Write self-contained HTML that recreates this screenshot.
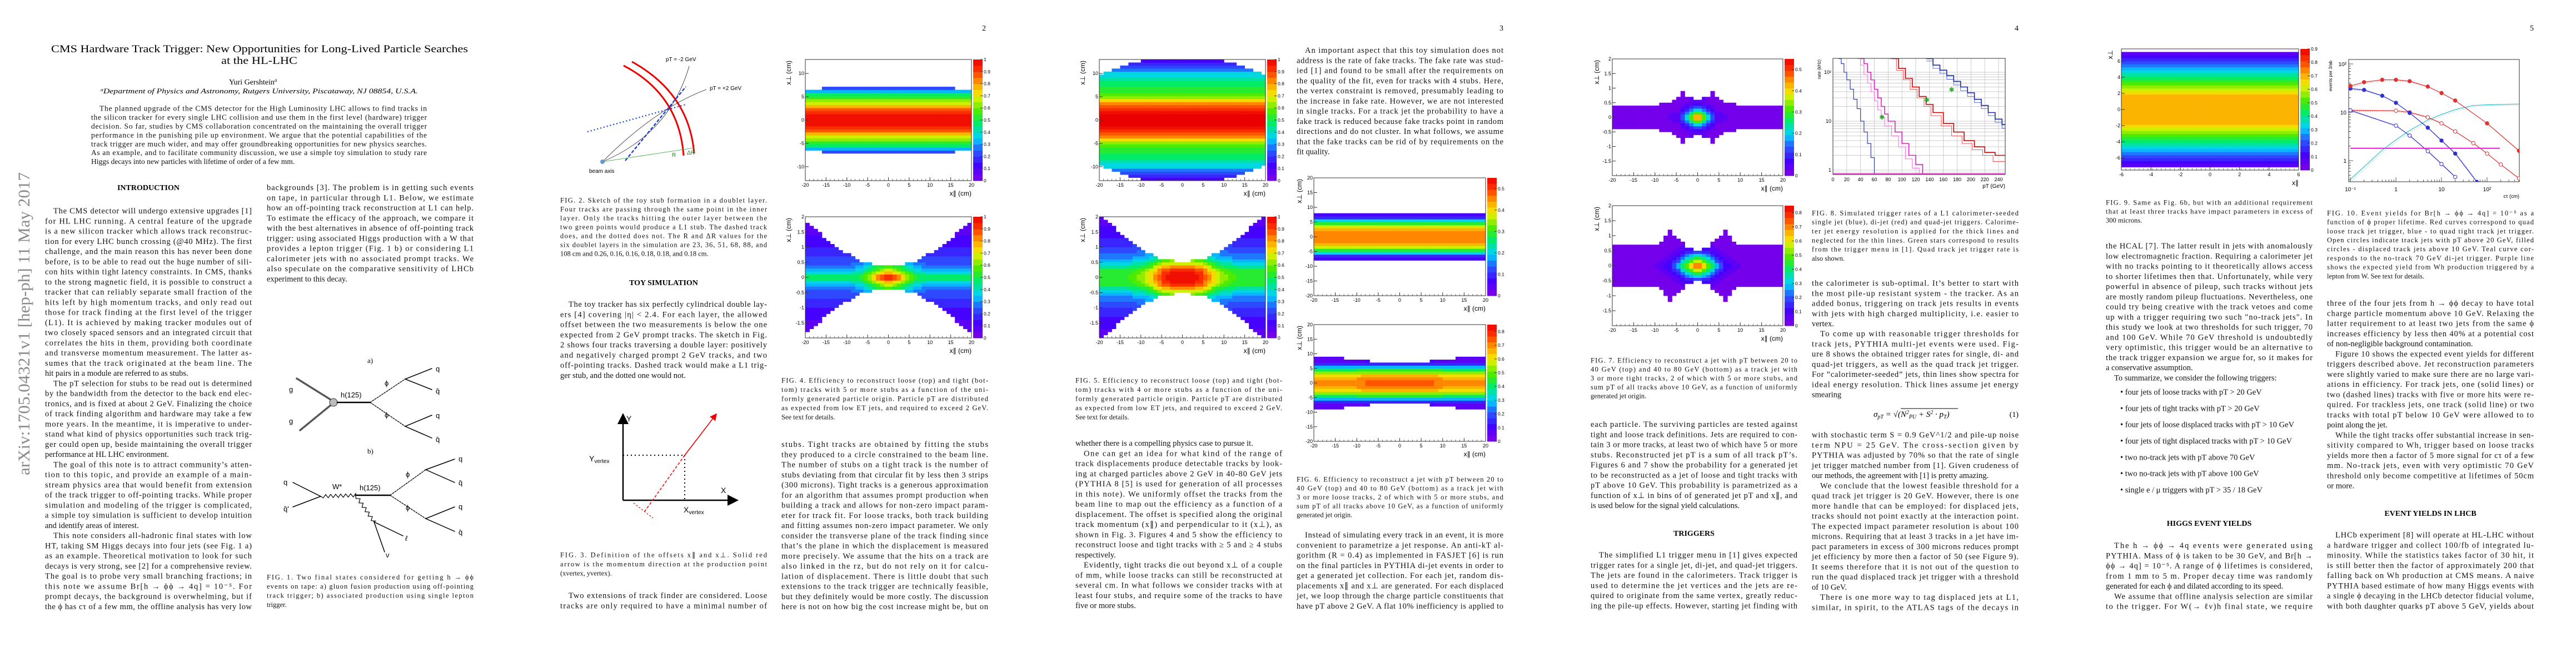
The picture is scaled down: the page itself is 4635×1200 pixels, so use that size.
<!DOCTYPE html>
<html><head><meta charset="utf-8">
<style>
html,body{margin:0;padding:0;background:#fff;}
#page{position:relative;width:4635px;height:1200px;overflow:hidden;background:#fff;}
svg{position:absolute;left:0;top:0;}
</style></head>
<body>
<div id="page">
<svg id="canvas" width="4635" height="1200" viewBox="0 0 4635 1200" font-family="Liberation Serif, serif">
 <defs>
  <marker id="arr" markerWidth="8" markerHeight="8" refX="6" refY="4" orient="auto"><path d="M0,0 L8,4 L0,8 z" fill="#000"/></marker>
  <marker id="arrR" markerWidth="8" markerHeight="8" refX="6" refY="4" orient="auto"><path d="M0,0 L8,4 L0,8 z" fill="#e00"/></marker>
 </defs>
 <text transform="translate(53,855) rotate(-90)" font-size="30" fill="#8a8a8a" textLength="545" lengthAdjust="spacingAndGlyphs">arXiv:1705.04321v1  [hep-ph]  11 May 2017</text>
 <text x="92" y="94" font-size="19" textLength="750" lengthAdjust="spacingAndGlyphs">CMS Hardware Track Trigger: New Opportunities for Long-Lived Particle Searches</text>
 <text x="398" y="115" font-size="19" textLength="137" lengthAdjust="spacingAndGlyphs">at the HL-LHC</text>
 <text x="412" y="152" font-size="14">Yuri Gershtein<tspan font-size="9" dy="-5" font-style="italic">a</tspan></text>
 <text x="181" y="168" font-size="13" font-style="italic" textLength="571" lengthAdjust="spacingAndGlyphs"><tspan font-size="8" dy="-4">a</tspan><tspan dy="4">Department of Physics and Astronomy, Rutgers University, Piscataway, NJ 08854, U.S.A.</tspan></text>
 <text x="1774" y="55" font-size="14" text-anchor="end">2</text>
 <text x="2705" y="55" font-size="14" text-anchor="end">3</text>
 <text x="3632" y="55" font-size="14" text-anchor="end">4</text>
 <text x="4559" y="55" font-size="14" text-anchor="end">5</text>
 <text x="267" y="342" font-size="14" font-weight="bold" text-anchor="middle">INTRODUCTION</text>
 <text x="1194" y="513" font-size="14" font-weight="bold" text-anchor="middle">TOY SIMULATION</text>
 <text x="3048" y="964" font-size="14" font-weight="bold" text-anchor="middle">TRIGGERS</text>
 <text x="3975" y="946" font-size="14" font-weight="bold" text-anchor="middle">HIGGS EVENT YIELDS</text>
 <text x="4373" y="928" font-size="14" font-weight="bold" text-anchor="middle">EVENT YIELDS IN LHCB</text>
 <text x="3371" y="750" font-size="15" font-style="italic">σ<tspan font-size="10" dy="3">pT</tspan><tspan dy="-3"> = √(N</tspan><tspan font-size="10" dy="-5">2</tspan><tspan font-size="10" dy="8">PU</tspan><tspan dy="-3"> + S</tspan><tspan font-size="10" dy="-5">2</tspan><tspan dy="5"> · p</tspan><tspan font-size="10" dy="3">T</tspan><tspan dy="-3">)</tspan></text>
 <line x1="3420" y1="735" x2="3523" y2="735" stroke="#000" stroke-width="1"/>
 <text x="3632" y="750" font-size="14" text-anchor="end">(1)</text>

 <g font-family="Liberation Sans, sans-serif" font-size="13" stroke-linecap="round">
  <text x="661" y="653" font-family="Liberation Serif, serif">a)</text>
  <line x1="534" y1="681" x2="595" y2="719" stroke="#555" stroke-width="3.5" stroke-dasharray="2 2"/>
  <line x1="540" y1="774" x2="595" y2="729" stroke="#555" stroke-width="3.5" stroke-dasharray="2 2"/>
  <circle cx="600" cy="724" r="7" fill="#bbb" stroke="#333"/>
  <text x="520" y="705">g</text><text x="520" y="762">g</text>
  <line x1="607" y1="724" x2="666" y2="724" stroke="#000" stroke-width="2.5"/>
  <text x="613" y="715">h(125)</text>
  <line x1="666" y1="724" x2="729" y2="682" stroke="#000" stroke-width="1.3" stroke-dasharray="3 2"/>
  <line x1="666" y1="724" x2="729" y2="767" stroke="#000" stroke-width="1.3" stroke-dasharray="3 2"/>
  <text x="692" y="694">ϕ</text><text x="692" y="751">ϕ</text>
  <path d="M777,663 L729,682 L777,701 M777,747 L729,767 L777,788" fill="none" stroke="#000" stroke-width="1.5"/>
  <text x="784" y="668">q</text><text x="784" y="708">q̄</text><text x="784" y="752">q</text><text x="784" y="795">q̄</text>
  <text x="661" y="816" font-family="Liberation Serif, serif">b)</text>
  <path d="M527,868 L577,893 L527,912" fill="none" stroke="#000" stroke-width="1.5"/>
  <text x="510" y="872">q</text><text x="510" y="920">q̄'</text>
  <path id="wstar" fill="none" stroke="#000" stroke-width="1.2"/>
  <path id="wdecay" fill="none" stroke="#000" stroke-width="1.2"/>
  <text x="598" y="880">W*</text>
  <line x1="640" y1="891" x2="702" y2="891" stroke="#000" stroke-width="2.5"/>
  <text x="647" y="882">h(125)</text>
  <line x1="702" y1="891" x2="766" y2="845" stroke="#000" stroke-width="1.3" stroke-dasharray="3 2"/>
  <line x1="702" y1="891" x2="766" y2="933" stroke="#000" stroke-width="1.3" stroke-dasharray="3 2"/>
  <text x="730" y="858">ϕ</text><text x="730" y="918">ϕ</text>
  <path d="M818,826 L766,845 L818,868 M818,912 L766,933 L818,956" fill="none" stroke="#000" stroke-width="1.5"/>
  <text x="825" y="830">q</text><text x="825" y="873">q̄</text><text x="825" y="916">q</text><text x="825" y="962">q̄</text>
  <path d="M725,964 L673,939 L692,993" fill="none" stroke="#000" stroke-width="1.5"/>
  <text x="729" y="973" font-style="italic">ℓ</text><text x="694" y="1003">ν</text>
 </g>

 <g font-family="Liberation Sans, sans-serif" font-size="10">
  <path d="M1122,118 Q1222,170 1230,280" fill="none" stroke="#e00" stroke-width="3"/>
  <path d="M1137,111 Q1240,168 1249,276" fill="none" stroke="#e00" stroke-width="3"/>
  <path d="M1084,291 Q1205,240 1240,119" fill="none" stroke="#222" stroke-width="0.8"/>
  <path d="M1084,291 Q1180,195 1271,161" fill="none" stroke="#222" stroke-width="0.8"/>
  <line x1="1057" y1="237" x2="1234" y2="188" stroke="#1a3fd0" stroke-width="2.3" stroke-dasharray="2 4"/>
  <line x1="1125" y1="289" x2="1234" y2="156" stroke="#1a3fd0" stroke-width="2.3" stroke-dasharray="6 3"/>
  <line x1="1084" y1="291" x2="1249" y2="266" stroke="#3a3" stroke-width="0.8"/>
  <circle cx="1084" cy="291" r="4" fill="#69c"/>
  <text x="1060" y="311">beam axis</text>
  <text x="1198" y="110">pT = -2 GeV</text>
  <text x="1277" y="162">pT = +2 GeV</text>
  <text x="1209" y="282" fill="#282">R</text><text x="1236" y="278" fill="#282">ΔR</text>
 </g>

 <g font-family="Liberation Sans, sans-serif" font-size="14">
  <line x1="1121" y1="900" x2="1121" y2="748" stroke="#000" stroke-width="2.5" marker-end="url(#arr)"/>
  <line x1="1121" y1="900" x2="1324" y2="900" stroke="#000" stroke-width="2.5" marker-end="url(#arr)"/>
  <line x1="1121" y1="819" x2="1232" y2="819" stroke="#000" stroke-width="2" stroke-dasharray="2 5"/>
  <line x1="1232" y1="819" x2="1232" y2="900" stroke="#000" stroke-width="2" stroke-dasharray="2 5"/>
  <line x1="1232" y1="819" x2="1288" y2="746" stroke="#e00" stroke-width="1.6" marker-end="url(#arrR)"/>
  <line x1="1232" y1="819" x2="1160" y2="920" stroke="#e00" stroke-width="1.5" stroke-dasharray="5 3"/>
  <line x1="1140" y1="905" x2="1175" y2="932" stroke="#e00" stroke-width="1.2" stroke-dasharray="3 3"/>
  <text x="1127" y="758">Y</text><text x="1297" y="887">X</text>
  <text x="1060" y="830">Y<tspan font-size="10" dy="3">vertex</tspan></text>
  <text x="1230" y="922">X<tspan font-size="10" dy="3">vertex</tspan></text>
 </g>
 <g id="charts"></g>
 <g id="texts" fill="#111"></g>
</svg>
</div>
<script>
const fig4aEdge=[7.3,7.3,7.3,7.2,7.2,7.1,7.0,6.9,6.7,6.4];
const fig4aRow=[1,0.97,0.78,0.6,0.42,0.15,0.06,0,0,0];
const fig4aCol=[1,1,1,1,1,1,1,1,1,1];
const fig4bEdge=[0.38,0.4,0.45,0.55,0.7,0.9,1.1,1.35,1.6,1.9];
const fig4bRow=[1,0.7,0.5,0.4,0.33,0.28,0.22,0.18,0.15,0.12];
const fig4bCol=[1,0.9,0.7,0.55,0.5,0.5,0.5,0.5,0.5,0.5];
const fig5aEdge=[13,13,13,13,12.8,12.5,12,11.3,10.5,9.5];
const fig5aRow=[1,1,0.9,0.7,0.55,0.5,0.45,0.35,0.2,0.08];
const fig5aCol=[1,1,1,1,1,1,1,1,1,1];
const fig5bEdge=[0.5,0.55,0.6,0.7,0.85,1.05,1.3,1.55,1.8,2];
const fig5bRow=[1,0.95,0.7,0.5,0.4,0.33,0.27,0.22,0.17,0.13];
const fig5bCol=[1,1,0.95,0.8,0.65,0.6,0.55,0.55,0.55,0.55];
const fig6aEdge=[7.5,7.5,7.5,7.5,7.5,7.5,7.5,7.8,8,8];
const fig6aRow=[0.47,0.44,0.3,0.08,0.02,0,0,0,0,0];
const fig6aCol=[1,1,1,1,1,1,1,1,1,1];
const fig6bEdge=[7,7,7,7.5,8,8,8.5,8.5,9,9];
const fig6bRow=[0.75,0.68,0.45,0.12,0.03,0,0,0,0,0];
const fig6bCol=[1,1,1,1,0.98,0.95,0.95,0.95,0.95,0.95];
const fig7aEdge=[0.6,0.7,1,1.3,1.6,1.9,2,2,2,2];
const fig7aRow=[0.55,0.25,0.08,0.04,0.02,0.02,0.02,0.02,0.02,0.02];
const fig7aCol=[1,0.5,0.1,0.06,0.05,0.05,0.05,0.05,0.05,0.05];
const fig7bEdge=[0.45,0.6,0.9,1.2,1.5,1.8,2,2,2,2];
const fig7bRow=[0.85,0.5,0.2,0.08,0.04,0.03,0.03,0.03,0.03,0.03];
const fig7bCol=[1,0.7,0.35,0.15,0.06,0.05,0.05,0.05,0.05,0.05];
const fig9Edge=[7.2,7.2,7.2,7.2,7.2,7.2,7.2,7.2,7.2,7.2];
const fig9Row=[0.72,0.72,0.7,0.62,0.52,0.42,0.3,0.18,0.08,0.03];
const fig9Col=[1,1,1,1,1,1,1,1,1,1];
const xTicks20=[-20,-15,-10,-5,0,5,10,15,20];
const yTicks13=[-10,-5,0,5,10];
const yTicks2=[-1.5,-1,-0.5,0,0.5,1,1.5,2];
const yTicks20=[-20,-15,-10,-5,0,5,10,15,20];
const xTicks6=[-6,-4,-2,0,2,4,6];
const yTicks6=[-6,-4,-2,0,2,4,6];
const f8QuadPt=[8,12,16,20,25,30,35,40,45,50,55,60];
const f8QuadRate=[190,150,100,70,45,28,18,10,6,3.5,1.8,0.7];
const f8PinkPt=[40,45,50,55,60,65,70,75,80,90,100,110,120,130];
const f8PinkRate=[190,150,100,70,45,30,20,14,10,6,3.5,2,1.3,0.6];
const f8PinkThinPt=[35,40,45,50,55,60,65,70,75,85,95,105,115,125];
const f8PinkThinRate=[190,140,90,60,40,26,17,12,8,5,3,1.7,1.1,0.6];
const f8RedPt=[85,95,105,115,125,135,145,160,175,190,205,220,235,250];
const f8RedRate=[190,120,75,50,32,22,15,9,6,4,3,2.3,2,1.4];
const f8RedThinPt=[82,92,102,112,122,132,142,157,172,187,202,217,232,250];
const f8RedThinRate=[190,110,70,45,30,20,13,8,5,3.5,2.6,2,1.5,1.0];
const f8BluePt=[135,145,155,165,175,185,195,205,215,225,235,245,250];
const f8BlueRate=[190,140,110,85,65,50,38,28,21,15,11,8.5,7.5];
const f8BlueThinRate=[170,120,95,72,55,42,32,24,18,13,9.5,7.2,6.4];
const f8StarPt=[71,136,172];
const f8StarRate=[12,27,44];
const f8XTicks=[0,20,40,60,80,100,120,140,160,180,200,220,240];
const f8YTicks=[1,10,100];
const f8YTickLabels=['1','10','10²'];
const f10RedFilledX=[0.1,0.2,0.5,1,2,5,10,20,100,500];
const f10RedFilledY=[35,42,47,47,44,34,25,17.5,5.9,1.6];
const f10RedOpenX=[0.1,1,2,5,10,20,50,100,200,500];
const f10RedOpenY=[11,10.8,10,7.9,5.9,4,2.3,1.4,0.83,0.43];
const f10BlueFilledX=[0.1,0.2,0.5,1,2,5,10,20,60];
const f10BlueFilledY=[31,29,22,15.7,9.7,4.8,2.6,1.4,0.36];
const f10BlueOpenX=[0.1,1,2,5,10,20];
const f10BlueOpenY=[11,5.3,3.3,1.57,0.85,0.46];
const f10TealX=[0.1,0.5,1,2,5,10,20,50,100,500];
const f10TealY=[0.41,1.65,2.7,4.2,6.9,9,11.4,13.8,14.3,14.8];
const f10WhX=[0.1,190];
const f10WhY=[1.8,1.8];
const f10XTicks=[0.1,1,10,100];
const f10XTickLabels=['10⁻¹','1','10','10²'];
const f10YTicks=[1,10,100];
const f10YTickLabels=['1','10','10²'];

const NS='http://www.w3.org/2000/svg';
const charts=document.getElementById('charts');
function mk(tag,attrs,parent){const e=document.createElementNS(NS,tag);for(const k in attrs)e.setAttribute(k,attrs[k]);(parent||charts).appendChild(e);return e;}
function interp(a,t){t=Math.max(0,Math.min(1,t));const f=t*(a.length-1);const i=Math.floor(f);if(i>=a.length-1)return a[a.length-1];return a[i]+(a[i+1]-a[i])*(f-i);}
function rainbow(t){
  const st=[[0,[128,0,230]],[0.12,[70,0,255]],[0.25,[40,90,255]],[0.35,[0,210,255]],[0.47,[0,235,110]],[0.57,[70,235,0]],[0.7,[240,240,0]],[0.8,[255,160,0]],[0.9,[255,60,0]],[1,[235,0,0]]];
  t=Math.max(0,Math.min(1,Math.floor(t*20)/20+0.025));
  for(let i=1;i<st.length;i++){if(t<=st[i][0]){const a=st[i-1],b=st[i];const f=(t-a[0])/(b[0]-a[0]);return 'rgb('+a[1].map((v,k)=>Math.round(v+(b[1][k]-v)*f)).join(',')+')';}}
  return 'rgb(235,0,0)';
}
function fmt(v){return (Math.round(v*10)/10).toString();}
function heat(c){
  const g=mk('g',{});
  
  
  const sx=v=>c.x0+(v-c.xmin)/(c.xmax-c.xmin)*(c.x1-c.x0);
  const sy=v=>c.y1-(v-c.ymin)/(c.ymax-c.ymin)*(c.y1-c.y0);
  const nx=40,ny=40;const dx=(c.xmax-c.xmin)/nx,dy=(c.ymax-c.ymin)/ny;
  for(let i=0;i<nx;i++)for(let j=0;j<ny;j++){
    const xc=c.xmin+(i+0.5)*dx,yc=c.ymin+(j+0.5)*dy;
    const u=Math.abs(xc)/Math.max(Math.abs(c.xmin),c.xmax);const v=Math.abs(yc);
    if(v>interp(c.edge,u))continue;
    const val=interp(c.row,v/Math.max(Math.abs(c.ymin),c.ymax))*interp(c.col,u);
    if(val<=0.004)continue;
    const r=mk('rect',{x:sx(xc-dx/2),y:sy(yc+dy/2),width:(c.x1-c.x0)/nx+0.4,height:(c.y1-c.y0)/ny+0.4,fill:rainbow(val/c.zmax)},g);
    
    
  }
  const fr=mk('rect',{x:c.x0,y:c.y0,width:c.x1-c.x0,height:c.y1-c.y0,fill:'none',stroke:'#333','stroke-width':1},g);
  
  const fs=9;
  c.xticks.forEach(t=>{mk('line',{x1:sx(t),x2:sx(t),y1:c.y1,y2:c.y1-6,stroke:'#333'},g);
    const tl=mk('text',{x:sx(t),y:c.y1+11,'font-size':fs,'text-anchor':'middle','font-family':'Liberation Sans, sans-serif'},g);tl.textContent=t;
    });
  for(let k=0;k<=40;k++){const xx=c.x0+k*(c.x1-c.x0)/40;mk('line',{x1:xx,x2:xx,y1:c.y1,y2:c.y1-3,stroke:'#333','stroke-width':0.7},g);}
  c.yticks.forEach(t=>{mk('line',{x1:c.x0,x2:c.x0+6,y1:sy(t),y2:sy(t),stroke:'#333'},g);
    const tl=mk('text',{x:c.x0-2,y:sy(t)+3,'font-size':fs,'text-anchor':'end','font-family':'Liberation Sans, sans-serif'},g);tl.textContent=t;
    });
  const xt=mk('text',{x:c.x1,y:c.y1+27,'font-size':12,'text-anchor':'end','font-family':'Liberation Sans, sans-serif'},g);xt.textContent=c.xl;
  
  const yt=mk('text',{transform:'translate('+(c.x0-c.ylOff)+','+(c.y0+2)+') rotate(-90)','font-size':12,'text-anchor':'end','font-family':'Liberation Sans, sans-serif'},g);yt.textContent=c.yl;
  
  const cbx=c.x1+3,cbw=17,n=20;
  for(let k=0;k<n;k++){const r=mk('rect',{x:cbx,y:c.y1-(k+1)*(c.y1-c.y0)/n,width:cbw,height:(c.y1-c.y0)/n+0.5,fill:rainbow((k+0.5)/n)},g);
    }
  for(let k=0;k<=Math.floor(c.zmax*10+1e-6);k++){const z=k/10;const yy=c.y1-z/c.zmax*(c.y1-c.y0);
    mk('line',{x1:cbx+cbw-4,x2:cbx+cbw,y1:yy,y2:yy,stroke:'#333'},g);
    const tl=mk('text',{x:cbx+cbw+2,y:yy+3,'font-size':8.5,'font-family':'Liberation Sans, sans-serif'},g);tl.textContent=k===0?'0':(z===1?'1':fmt(z));
    }
}
const X='x∥ (cm)',Y='x⊥ (cm)';
heat({name:'fig4-loose-heatmap',x0:1449,x1:1748,y0:107,y1:325,xmin:-20,xmax:20,ymin:-13,ymax:13,zmax:1,edge:fig4aEdge,row:fig4aRow,col:fig4aCol,xticks:xTicks20,yticks:yTicks13,xl:X,yl:Y,ylOff:26});
heat({name:'fig4-tight-heatmap',x0:1449,x1:1748,y0:390,y1:608,xmin:-20,xmax:20,ymin:-2,ymax:2,zmax:1,edge:fig4bEdge,row:fig4bRow,col:fig4bCol,xticks:xTicks20,yticks:yTicks2,xl:X,yl:Y,ylOff:26});
heat({name:'fig5-loose-heatmap',x0:1978,x1:2277,y0:107,y1:325,xmin:-20,xmax:20,ymin:-13,ymax:13,zmax:1,edge:fig5aEdge,row:fig5aRow,col:fig5aCol,xticks:xTicks20,yticks:yTicks13,xl:X,yl:Y,ylOff:26});
heat({name:'fig5-tight-heatmap',x0:1978,x1:2277,y0:390,y1:608,xmin:-20,xmax:20,ymin:-2,ymax:2,zmax:1,edge:fig5bEdge,row:fig5bRow,col:fig5bCol,xticks:xTicks20,yticks:yTicks2,xl:X,yl:Y,ylOff:26});
heat({name:'fig6-top-heatmap',x0:2364,x1:2673,y0:320,y1:532,xmin:-20,xmax:20,ymin:-20,ymax:20,zmax:0.55,edge:fig6aEdge,row:fig6aRow,col:fig6aCol,xticks:xTicks20,yticks:yTicks20,xl:X,yl:Y,ylOff:22});
heat({name:'fig6-bottom-heatmap',x0:2364,x1:2673,y0:584,y1:794,xmin:-20,xmax:20,ymin:-20,ymax:20,zmax:0.85,edge:fig6bEdge,row:fig6bRow,col:fig6bCol,xticks:xTicks20,yticks:yTicks20,xl:X,yl:Y,ylOff:22});
heat({name:'fig7-top-heatmap',x0:2901,x1:3208,y0:106,y1:316,xmin:-20,xmax:20,ymin:-2,ymax:2,zmax:0.55,edge:fig7aEdge,row:fig7aRow,col:fig7aCol,xticks:xTicks20,yticks:yTicks2,xl:X,yl:Y,ylOff:24});
heat({name:'fig7-bottom-heatmap',x0:2901,x1:3208,y0:370,y1:586,xmin:-20,xmax:20,ymin:-2,ymax:2,zmax:0.85,edge:fig7bEdge,row:fig7bRow,col:fig7bCol,xticks:xTicks20,yticks:yTicks2,xl:X,yl:Y,ylOff:24});
heat({name:'fig9-heatmap',x0:3817,x1:4136,y0:88,y1:306,xmin:-6,xmax:6,ymin:-7.5,ymax:7.5,zmax:0.9,edge:fig9Edge,row:fig9Row,col:fig9Col,xticks:xTicks6,yticks:yTicks6,xl:'x∥',yl:'x⊥',ylOff:16});

(function(){
  const g=mk('g',{});
  
  
  const x0=3298,x1=3608,y0=105,y1=314;
  const sx=v=>x0+v*1.2417, sy=v=>306-88*Math.log10(v);
  const cp=mk('clipPath',{id:'c8'},g);mk('rect',{x:x0,y:y0,width:x1-x0,height:y1-y0},cp);
  for(let d=-1;d<=2;d++)for(let m=1;m<10;m++){const yy=sy(m*Math.pow(10,d));if(yy<y0||yy>y1)continue;
    const gl=mk('line',{x1:x0,x2:x1,y1:yy,y2:yy,stroke:'#bbb','stroke-width':0.7},g);}
  f8XTicks.forEach(t=>{const xx=sx(t);const gl=mk('line',{x1:xx,x2:xx,y1:y0,y2:y1,stroke:'#bbb','stroke-width':0.7},g);
    const tl=mk('text',{x:xx,y:y1+12,'font-size':9,'text-anchor':'middle','font-family':'Liberation Sans, sans-serif'},g);tl.textContent=t;});
  f8YTicks.forEach((t,i)=>{const tl=mk('text',{x:x0-3,y:sy(t)+3,'font-size':9,'text-anchor':'end','font-family':'Liberation Sans, sans-serif'},g);tl.textContent=f8YTickLabels[i];});
  function step(px,py,col,w,name){let d='M'+sx(px[0])+','+sy(py[0]);for(let i=1;i<px.length;i++){d+=' H'+sx(px[i])+' V'+sy(py[i]);}
    const p=mk('path',{d:d,fill:'none',stroke:col,'stroke-width':w,'clip-path':'url(#c8)'},g);}
  step(f8QuadPt,f8QuadRate,'#2d3fb0',1.2,'quad-track-jet-line');
  step(f8PinkThinPt,f8PinkThinRate,'#ff66e0',1,'quad-jet-thin-line');
  step(f8PinkPt,f8PinkRate,'#e020c0',1.6,'quad-jet-thick-line');
  step(f8RedThinPt,f8RedThinRate,'#ff5050',1,'dijet-thin-line');
  step(f8RedPt,f8RedRate,'#d00000',1.6,'dijet-thick-line');
  step(f8BluePt,f8BlueThinRate,'#6078e0',1,'single-jet-thin-line');
  step(f8BluePt,f8BlueRate,'#1a2a9a',1.6,'single-jet-thick-line');
  f8StarPt.forEach((p,i)=>{const s=mk('text',{x:sx(p),y:sy(f8StarRate[i])+4,'font-size':12,fill:'#2a2','text-anchor':'middle'},g);s.textContent='✱';});
  const fr=mk('rect',{x:x0,y:y0,width:x1-x0,height:y1-y0,fill:'none',stroke:'#333'},g);
  const mg=mk('line',{x1:x0,x2:x1,y1:y1-1,y2:y1-1,stroke:'#e020c0','stroke-width':2},g);
  const xt=mk('text',{x:x1,y:y1+24,'font-size':10,'text-anchor':'end','font-family':'Liberation Sans, sans-serif'},g);xt.textContent='pT (GeV)';
  const yt=mk('text',{transform:'translate('+(x0-22)+','+(y0+2)+') rotate(-90)','font-size':8,'text-anchor':'end','font-family':'Liberation Sans, sans-serif'},g);yt.textContent='rate (kHz)';
})();

(function(){
  const g=mk('g',{});
  
  
  const x0=4226,x1=4533,y0=107,y1=327;
  const sx=v=>4311+82*Math.log10(v), sy=v=>289-87*Math.log10(v);
  const cp=mk('clipPath',{id:'c10'},g);mk('rect',{x:x0,y:y0,width:x1-x0,height:y1-y0},cp);
  const fr=mk('rect',{x:x0,y:y0,width:x1-x0,height:y1-y0,fill:'none',stroke:'#333'},g);
  for(let d=-1;d<=2;d++)for(let m=1;m<10;m++){const v=m*Math.pow(10,d);const xx=sx(v);if(xx>=x0-0.5&&xx<=x1){mk('line',{x1:xx,x2:xx,y1:y1,y2:y1-(m===1?8:4),stroke:'#333','stroke-width':0.8},g);}
    const yy=sy(v);if(yy>=y0&&yy<=y1){mk('line',{x1:x0,x2:x0+(m===1?8:4),y1:yy,y2:yy,stroke:'#333','stroke-width':0.8},g);}}
  f10XTicks.forEach((t,i)=>{const tl=mk('text',{x:sx(t),y:y1+17,'font-size':10,'text-anchor':'middle','font-family':'Liberation Sans, sans-serif'},g);tl.textContent=f10XTickLabels[i];});
  f10YTicks.forEach((t,i)=>{const tl=mk('text',{x:x0-4,y:sy(t)+4,'font-size':10,'text-anchor':'end','font-family':'Liberation Sans, sans-serif'},g);tl.textContent=f10YTickLabels[i];});
  const xt=mk('text',{x:x1,y:y1+29,'font-size':9,'text-anchor':'end','font-family':'Liberation Sans, sans-serif'},g);xt.textContent='cτ (cm)';
  const yt=mk('text',{transform:'translate('+(x0-30)+','+(y0+2)+') rotate(-90)','font-size':8,'text-anchor':'end','font-family':'Liberation Sans, sans-serif'},g);yt.textContent='events per 3/ab';
  function series(xs,ys,col,marker,name){
    const pts=xs.map((x,i)=>sx(x)+','+sy(ys[i])).join(' ');
    const pl=mk('polyline',{points:pts,fill:'none',stroke:col,'stroke-width':1.2,'clip-path':'url(#c10)'},g);
    
    
    const pd=mk('polyline',{points:xs.map((x,i)=>(sx(x)+3)+','+(sy(ys[i])+2)).join(' '),fill:'none',stroke:col,'stroke-width':0.7,'stroke-dasharray':'2 2','clip-path':'url(#c10)','opacity':0.7},g);
    
    if(marker){xs.forEach((x,i)=>{const c=mk('circle',{cx:sx(x),cy:sy(ys[i]),r:3.2,fill:marker==='filled'?col:'#fff',stroke:col,'stroke-width':1,'clip-path':'url(#c10)'},g);
      
      });}
  }
  series(f10TealX,f10TealY,'#30c0c8',null,'notrack-dijet-curve');
  series(f10RedOpenX,f10RedOpenY,'#e03030','open','loose-pt20-curve');
  series(f10BlueOpenX,f10BlueOpenY,'#3030d0','open','tight-pt20-curve');
  series(f10BlueFilledX,f10BlueFilledY,'#3030d0','filled','tight-displaced-curve');
  series(f10RedFilledX,f10RedFilledY,'#e03030','filled','loose-displaced-curve');
  const wh=mk('line',{x1:sx(f10WhX[0]),x2:sx(f10WhX[1]),y1:sy(f10WhY[0]),y2:sy(f10WhY[1]),stroke:'#e020d0','stroke-width':2},g);
  
})();

function wavy(id,x1,y1,x2,y2,n){const L=Math.hypot(x2-x1,y2-y1),ux=(x2-x1)/L,uy=(y2-y1)/L;let d='M'+x1+','+y1;
  for(let k=1;k<=n;k++){const t=k/n;const a=(k%2?3:-3);d+=' L'+(x1+ux*L*t-uy*a)+','+(y1+uy*L*t+ux*a);}d+=' L'+x2+','+y2;document.getElementById(id).setAttribute('d',d);}
wavy('wstar',577,893,640,891,14);
wavy('wdecay',640,891,673,939,12);

const T=document.getElementById('texts');
function block(name,x,y0,lh,w,size,lines,style){
  const g=mk('g',{'font-size':size},T);
  
  
  if(style)g.setAttribute('font-style',style);
  lines.forEach((ln,i)=>{let s=ln,ind=0,end=false;
    if(s[0]==='^'){ind=15;s=s.slice(1);} if(s.endsWith('|')){end=true;s=s.slice(0,-1);}
    const t=mk('text',{x:x+ind,y:y0+i*lh+size*0.35},g);
    if(!end){t.setAttribute('textLength',w-ind);t.setAttribute('lengthAdjust','spacing');}
    t.textContent=s;
    
  });
}
const B=14.5,LH=18.25,C=12.5,W=372;
block('abstract',164,195,15.9,604,13.5,[
'^The planned upgrade of the CMS detector for the High Luminosity LHC allows to find tracks in',
'the silicon tracker for every single LHC collision and use them in the first level (hardware) trigger',
'decision. So far, studies by CMS collaboration concentrated on the maintaining the overall trigger',
'performance in the punishing pile up environment. We argue that the potential capabilities of the',
'track trigger are much wider, and may offer groundbreaking opportunities for new physics searches.',
'As an example, and to facilitate community discussion, we use a simple toy simulation to study rare',
'Higgs decays into new particles with lifetime of order of a few mm.|']);
block('intro-text',81,379,LH,W,B,[
'^The CMS detector will undergo extensive upgrades [1]',
'for HL LHC running. A central feature of the upgrade',
'is a new silicon tracker which allows track reconstruc-',
'tion for every LHC bunch crossing (@40 MHz). The first',
'challenge, and the main reason this has never been done',
'before, is to be able to read out the huge number of sili-',
'con hits within tight latency constraints. In CMS, thanks',
'to the strong magnetic field, it is possible to construct a',
'tracker that can reliably separate small fraction of the',
'hits left by high momentum tracks, and only read out',
'those for track finding at the first level of the trigger',
'(L1). It is achieved by making tracker modules out of',
'two closely spaced sensors and an integrated circuit that',
'correlates the hits in them, providing both coordinate',
'and transverse momentum measurement. The latter as-',
'sumes that the track originated at the beam line. The',
'hit pairs in a module are referred to as stubs.|',
'^The pT selection for stubs to be read out is determined',
'by the bandwidth from the detector to the back end elec-',
'tronics, and is fixed at about 2 GeV. Finalizing the choice',
'of track finding algorithm and hardware may take a few',
'more years. In the meantime, it is imperative to under-',
'stand what kind of physics opportunities such track trig-',
'ger could open up, beside maintaining the overall trigger',
'performance at HL LHC environment.|',
'^The goal of this note is to attract community\u2019s atten-',
'tion to this topic, and provide an example of a main-',
'stream physics area that would benefit from extension',
'of the track trigger to off-pointing tracks. While proper',
'simulation and modeling of the trigger is complicated,',
'a simple toy simulation is sufficient to develop intuition',
'and identify areas of interest.|',
'^This note considers all-hadronic final states with low',
'HT, taking SM Higgs decays into four jets (see Fig. 1 a)',
'as an example. Theoretical motivation to look for such',
'decays is very strong, see [2] for a comprehensive review.',
'The goal is to probe very small branching fractions; in',
'this note we assume Br[h \u2192 \u03d5\u03d5 \u2192 4q] = 10\u207b\u2075. For',
'prompt decays, the background is overwhelming, but if',
'the \u03d5 has c\u03c4 of a few mm, the offline analysis has very low']);
block('intro-text-col2',480,337,LH,W,B,[
'backgrounds [3]. The problem is in getting such events',
'on tape, in particular through L1. Below, we estimate',
'how an off-pointing track reconstruction at L1 can help.',
'To estimate the efficacy of the approach, we compare it',
'with the best alternatives in absence of off-pointing track',
'trigger: using associated Higgs production with a W that',
'provides a lepton trigger (Fig. 1 b) or considering L1',
'calorimeter jets with no associated prompt tracks. We',
'also speculate on the comparative sensitivity of LHCb',
'experiment to this decay.|']);
block('fig1-caption',480,1038,16.6,W,C,[
'FIG. 1.  Two final states considered for getting h \u2192 \u03d5\u03d5',
'events on tape: a) gluon fusion production using off-pointing',
'track trigger; b) associated production using single lepton',
'trigger.|']);
block('fig2-caption',1008,360,16,W,C,[
'FIG. 2.  Sketch of the toy stub formation in a doublet layer.',
'Four tracks are passing through the same point in the inner',
'layer. Only the tracks hitting the outer layer between the',
'two green points would produce a L1 stub. The dashed track',
'does, and the dotted does not. The R and \u0394R values for the',
'six doublet layers in the simulation are 23, 36, 51, 68, 88, and',
'108 cm and 0.26, 0.16, 0.16, 0.18, 0.18, and 0.18 cm.|']);
block('toy-simulation-text',1008,547,LH,W,B,[
'^The toy tracker has six perfectly cylindrical double lay-',
'ers [4] covering |\u03b7| < 2.4. For each layer, the allowed',
'offset between the two measurements is below the one',
'expected from 2 GeV prompt tracks. The sketch in Fig.',
'2 shows four tracks traversing a double layer: positively',
'and negatively charged prompt 2 GeV tracks, and two',
'off-pointing tracks. Dashed track would make a L1 trig-',
'ger stub, and the dotted one would not.|']);
block('fig3-caption',1008,998,16.5,W,C,[
'FIG. 3.  Definition of the offsets x\u2225 and x\u22a5. Solid red',
'arrow is the momentum direction at the production point',
'(xvertex, yvertex).|']);
block('track-finder-text',1008,1071,LH,W,B,[
'^Two extensions of track finder are considered. Loose',
'tracks are only required to have a minimal number of']);
block('fig4-caption',1406,684,16.5,W,C,[
'FIG. 4.  Efficiency to reconstruct loose (top) and tight (bot-',
'tom) tracks with 5 or more stubs as a function of the uni-',
'formly generated particle origin. Particle pT are distributed',
'as expected from low ET jets, and required to exceed 2 GeV.',
'See text for details.|']);
block('tight-tracks-text',1406,799,LH,W,B,[
'stubs. Tight tracks are obtained by fitting the stubs',
'they produced to a circle constrained to the beam line.',
'The number of stubs on a tight track is the number of',
'stubs deviating from that circular fit by less then 3 strips',
'(300 microns). Tight tracks is a generous approximation',
'for an algorithm that assumes prompt production when',
'building a track and allows for non-zero impact param-',
'eter for track fit. For loose tracks, both track building',
'and fitting assumes non-zero impact parameter. We only',
'consider the transverse plane of the track finding since',
'that\u2019s the plane in which the displacement is measured',
'more precisely. We assume that the hits on a track are',
'also linked in the rz, but do not rely on it for calcu-',
'lation of displacement. There is little doubt that such',
'extensions to the track trigger are technically feasible,',
'but they definitely would be more costly. The discussion',
'here is not on how big the cost increase might be, but on']);
block('fig5-caption',1935,684,16.5,W,C,[
'FIG. 5.  Efficiency to reconstruct loose (top) and tight (bot-',
'tom) tracks with 4 or more stubs as a function of the uni-',
'formly generated particle origin. Particle pT are distributed',
'as expected from low ET jets, and required to exceed 2 GeV.',
'See text for details.|']);
block('displacement-text',1935,797,LH,W,B,[
'whether there is a compelling physics case to pursue it.|',
'^One can get an idea for what kind of the range of',
'track displacements produce detectable tracks by look-',
'ing at charged particles above 2 GeV in 40-80 GeV jets',
'(PYTHIA 8 [5] is used for generation of all processes',
'in this note). We uniformly offset the tracks from the',
'beam line to map out the efficiency as a function of a',
'displacement. The offset is specified along the original',
'track momentum (x\u2225) and perpendicular to it (x\u22a5), as',
'shown in Fig. 3. Figures 4 and 5 show the efficiency to',
'reconstruct loose and tight tracks with \u2265 5 and \u2265 4 stubs',
'respectively.|',
'^Evidently, tight tracks die out beyond x\u22a5 of a couple',
'of mm, while loose tracks can still be reconstructed at',
'several cm. In what follows we consider tracks with at',
'least four stubs, and require some of the tracks to have',
'five or more stubs.|']);
block('fake-rate-text',2333,90,LH,W,B,[
'^An important aspect that this toy simulation does not',
'address is the rate of fake tracks. The fake rate was stud-',
'ied [1] and found to be small after the requirements on',
'the quality of the fit, even for tracks with 4 stubs. Here,',
'the vertex constraint is removed, presumably leading to',
'the increase in fake rate. However, we are not interested',
'in single tracks. For a track jet the probability to have a',
'fake track is reduced because fake tracks point in random',
'directions and do not cluster. In what follows, we assume',
'that the fake tracks can be rid of by requirements on the',
'fit quality.|']);
block('fig6-caption',2333,862,16,W,C,[
'FIG. 6.  Efficiency to reconstruct a jet with pT between 20 to',
'40 GeV (top) and 40 to 80 GeV (bottom) as a track jet with',
'3 or more loose tracks, 2 of which with 5 or more stubs, and',
'sum pT of all tracks above 10 GeV, as a function of uniformly',
'generated jet origin.|']);
block('jet-response-text',2333,962,LH,W,B,[
'^Instead of simulating every track in an event, it is more',
'convenient to parametrize a jet response. An anti-kT al-',
'gorithm (R = 0.4) as implemented in FASJET [6] is run',
'on the final particles in PYTHIA di-jet events in order to',
'get a generated jet collection. For each jet, random dis-',
'placements x\u2225 and x\u22a5 are generated. For each displaced',
'jet, we loop through the charge particle constituents that',
'have pT above 2 GeV. A flat 10% inefficiency is applied to']);
block('fig7-caption',2862,648,16,W,C,[
'FIG. 7.  Efficiency to reconstruct a jet with pT between 20 to',
'40 GeV (top) and 40 to 80 GeV (bottom) as a track jet with',
'3 or more tight tracks, 2 of which with 5 or more stubs, and',
'sum pT of all tracks above 10 GeV, as a function of uniformly',
'generated jet origin.|']);
block('surviving-particles-text',2862,763,LH,W,B,[
'each particle. The surviving particles are tested against',
'tight and loose track definitions. Jets are required to con-',
'tain 3 or more tracks, at least two of which have 5 or more',
'stubs. Reconstructed jet pT is a sum of all track pT\u2019s.',
'Figures 6 and 7 show the probability for a generated jet',
'to be reconstructed as a jet of loose and tight tracks with',
'pT above 10 GeV. This probability is parametrized as a',
'function of x\u22a5 in bins of of generated jet pT and x\u2225, and',
'is used below for the signal yield calculations.|']);
block('triggers-text',2862,998,LH,W,B,[
'^The simplified L1 trigger menu in [1] gives expected',
'trigger rates for a single jet, di-jet, and quad-jet triggers.',
'The jets are found in the calorimeters. Track trigger is',
'used to determine the jet vertices and the jets are re-',
'quired to originate from the same vertex, greatly reduc-',
'ing the pile-up effects. However, starting jet finding with']);
block('fig8-caption',3260,383,16.3,W,C,[
'FIG. 8.  Simulated trigger rates of a L1 calorimeter-seeded',
'single jet (blue), di-jet (red) and quad-jet triggers. Calorime-',
'ter jet energy resolution is applied for the thick lines and',
'neglected for the thin lines. Green stars correspond to results',
'from the trigger menu in [1]. Quad track jet trigger rate is',
'also shown.|']);
block('tracker-text',3260,509,LH,W,B,[
'the calorimeter is sub-optimal. It\u2019s better to start with',
'the most pile-up resistant system - the tracker. As an',
'added bonus, triggering on track jets results in events',
'with jets with high charged multiplicity, i.e. easier to',
'vertex.|']);
block('thresholds-text',3260,600,LH,W,B,[
'^To come up with reasonable trigger thresholds for',
'track jets, PYTHIA multi-jet events were used. Fig-',
'ure 8 shows the obtained trigger rates for single, di- and',
'quad-jet triggers, as well as the quad track jet trigger.',
'For \u201dcalorimeter-seeded\u201d jets, thin lines show spectra for',
'ideal energy resolution. Thick lines assume jet energy',
'smearing|']);
block('resolution-text',3260,782,LH,W,B,[
'with stochastic term S = 0.9 GeV^1/2 and pile-up noise',
'term NPU = 25 GeV. The cross-section given by',
'PYTHIA was adjusted by 70% so that the rate of single',
'jet trigger matched number from [1]. Given crudeness of',
'our methods, the agreement with [1] is pretty amazing.|',
'^We conclude that the lowest feasible threshold for a',
'quad track jet trigger is 20 GeV. However, there is one',
'more handle that can be employed: for displaced jets,',
'tracks should not point exactly at the interaction point.',
'The expected impact parameter resolution is about 100',
'microns. Requiring that at least 3 tracks in a jet have im-',
'pact parameters in excess of 300 microns reduces prompt',
'jet efficiency by more then a factor of 50 (see Figure 9).',
'It seems therefore that it is not out of the question to',
'run the quad displaced track jet trigger with a threshold',
'of 10 GeV.|',
'^There is one more way to tag displaced jets at L1,',
'similar, in spirit, to the ATLAS tags of the decays in']);
block('fig9-caption',3789,364,16,W,C,[
'FIG. 9.  Same as Fig. 6b, but with an additional requirement',
'that at least three tracks have impact parameters in excess of',
'300 microns.|']);
block('no-track-jets-text',3789,442,LH,W,B,[
'the HCAL [7]. The latter result in jets with anomalously',
'low electromagnetic fraction. Requiring a calorimeter jet',
'with no tracks pointing to it theoretically allows access',
'to shorter lifetimes then that. Unfortunately, while very',
'powerful in absence of pileup, such tracks without jets',
'are mostly random pileup fluctuations. Nevertheless, one',
'could try being creative with the track vetoes and come',
'up with a trigger requiring two such "no-track jets". In',
'this study we look at two thresholds for such trigger, 70',
'and 100 GeV. While 70 GeV threshold is undoubtedly',
'very optimistic, this trigger would be an alternative to',
'the track trigger expansion we argue for, so it makes for',
'a conservative assumption.|',
'^To summarize, we consider the following triggers:|']);
block('trigger-list',3815,705,29.3,W,B,[
'\u2022 four jets of loose tracks with pT > 20 GeV|',
'\u2022 four jets of tight tracks with pT > 20 GeV|',
'\u2022 four jets of loose displaced tracks with pT > 10 GeV|',
'\u2022 four jets of tight displaced tracks with pT > 10 GeV|',
'\u2022 two no-track jets with pT above 70 GeV|',
'\u2022 two no-track jets with pT above 100 GeV|',
'\u2022 single e / \u03bc triggers with pT > 35 / 18 GeV|']);
block('higgs-yields-text',3789,981,LH,W,B,[
'^The h \u2192 \u03d5\u03d5 \u2192 4q events were generated using',
'PYTHIA. Mass of \u03d5 is taken to be 30 GeV, and Br[h \u2192',
'\u03d5\u03d5 \u2192 4q] = 10\u207b\u2075. A range of \u03d5 lifetimes is considered,',
'from 1 mm to 5 m. Proper decay time was randomly',
'generated for each \u03d5 and dilated according to its speed.|',
'^We assume that offline analysis selection are similar',
'to the trigger. For W(\u2192 \u2113\u03bd)h final state, we require']);
block('fig10-caption',4187,383,16.2,W,C,[
'FIG. 10.  Event yields for Br[h \u2192 \u03d5\u03d5 \u2192 4q] = 10\u207b\u2075 as a',
'function of \u03d5 proper lifetime. Red curves correspond to quad',
'loose track jet trigger, blue - to quad tight track jet trigger.',
'Open circles indicate track jets with pT above 20 GeV, filled',
'circles - displaced track jets above 10 GeV. Teal curve cor-',
'responds to the no-track 70 GeV di-jet trigger. Purple line',
'shows the expected yield from Wh production triggered by a',
'lepton from W. See text for details.|']);
block('event-yields-text',4187,545,LH,W,B,[
'three of the four jets from h \u2192 \u03d5\u03d5 decay to have total',
'charge particle momentum above 10 GeV. Relaxing the',
'latter requirement to at least two jets from the same \u03d5',
'increases efficiency by less then 40% at a potential cost',
'of non-negligible background contamination.|',
'^Figure 10 shows the expected event yields for different',
'triggers described above. Jet reconstruction parameters',
'were slightly varied to make sure there are no large vari-',
'ations in efficiency. For track jets, one (solid lines) or',
'two (dashed lines) tracks with five or more hits were re-',
'quired. For trackless jets, one track (solid line) or two',
'tracks with total pT below 10 GeV were allowed to to',
'point along the jet.|',
'^While the tight tracks offer substantial increase in sen-',
'sitivity compared to Wh, trigger based on loose tracks',
'yields more then a factor of 5 more signal for c\u03c4 of a few',
'mm. No-track jets, even with very optimistic 70 GeV',
'threshold only become competitive at lifetimes of 50cm',
'or more.|']);
block('lhcb-text',4187,962,LH,W,B,[
'^LHCb experiment [8] will operate at HL-LHC without',
'a hardware trigger and collect 100/fb of integrated lu-',
'minosity. While the statistics takes factor of 30 hit, it',
'is still better then the factor of approximately 200 that',
'falling back on Wh production at CMS means. A naive',
'PYTHIA based estimate of how many Higgs events with',
'a single \u03d5 decaying in the LHCb detector fiducial volume,',
'with both daughter quarks pT above 5 GeV, yields about']);
</script>
</body></html>
